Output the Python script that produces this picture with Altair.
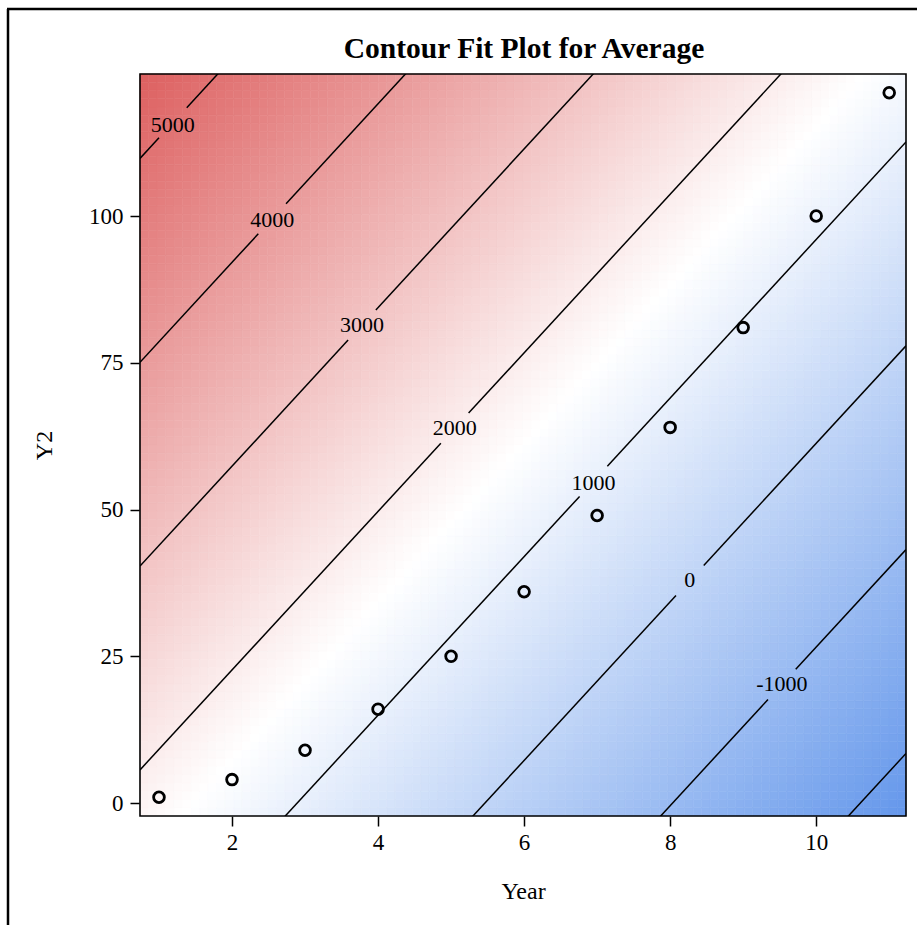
import altair as alt
import numpy as np
import pandas as pd

# ---- data ----
year = [1, 2, 3, 4, 5, 6, 7, 8, 9, 10, 11]
y2 = [1, 4, 9, 16, 25, 36, 49, 64, 81, 100, 121]

# fitted plane: Average ~ a + b*Year + c*Y2
fit_intercept = 2125.0
fit_year = -389.0
fit_y2 = 28.8

contour_levels = [-2000, -1000, 0, 1000, 2000, 3000, 4000, 5000]
label_levels = [5000, 4000, 3000, 2000, 1000, 0, -1000]
label_year = [1.19, 2.55, 3.78, 5.05, 6.95, 8.27, 9.53]
label_y2 = [115.5, 99.3, 81.4, 63.9, 54.5, 38.0, 20.3]

x_ticks = [2, 4, 6, 8, 10]
y_ticks = [0, 25, 50, 75, 100]
x_domain = [0.74, 11.23]
y_domain = [-2.2, 124.2]

title_text = "Contour Fit Plot for Average"
ramp_colors = ["#6497EB", "#FFFFFF", "#DD6060"]

# ---- layout constants ----
W, H = 766, 742
FONT = "Liberation Serif"
GAP = 0.19  # half gap (in Year units) of a contour line around its label


def fit(x, y):
    return fit_intercept + fit_year * x + fit_y2 * y


# surface grid
nx, ny = 90, 90
xe = np.linspace(x_domain[0], x_domain[1], nx + 1)
ye = np.linspace(y_domain[0], y_domain[1], ny + 1)
rows = []
for i in range(nx):
    for j in range(ny):
        xc = 0.5 * (xe[i] + xe[i + 1])
        yc = 0.5 * (ye[j] + ye[j + 1])
        rows.append((xe[i], xe[i + 1], ye[j], ye[j + 1], fit(xc, yc)))
grid = pd.DataFrame(rows, columns=["x0", "x1", "y0", "y1", "z"])

corner_vals = [fit(x_domain[0], y_domain[1]), fit(x_domain[1], y_domain[0])]
zmax, zmin = max(corner_vals), min(corner_vals)
zmid = 0.5 * (zmax + zmin)


def y_on(level, x):
    return (level - fit_intercept - fit_year * x) / fit_y2


# contour line segments (broken around labels)
seg_rows = []
sid = 0
for lev in contour_levels:
    if lev in label_levels:
        lx = label_year[label_levels.index(lev)]
        pieces = [(x_domain[0], lx - GAP), (lx + GAP, x_domain[1])]
    else:
        pieces = [(x_domain[0], x_domain[1])]
    for a, b in pieces:
        seg_rows.append((sid, a, y_on(lev, a)))
        seg_rows.append((sid, b, y_on(lev, b)))
        sid += 1
segs = pd.DataFrame(seg_rows, columns=["seg", "x", "y"])

labels = pd.DataFrame({"x": label_year, "y": label_y2,
                       "t": [str(v) for v in label_levels]})
pts = pd.DataFrame({"Year": year, "Y2": y2})
one = pd.DataFrame({"k": [0]})
title_df = pd.DataFrame({"t": [title_text]})

xs = alt.Scale(domain=x_domain, nice=False, zero=False)
ys = alt.Scale(domain=y_domain, nice=False, zero=False)
cscale = alt.Scale(domain=[zmin, zmid, zmax], range=ramp_colors,
                   interpolate="rgb", clamp=True)

x_axis = alt.Axis(values=x_ticks, format="d", title="Year", grid=False, domain=False,
                  tickSize=10, tickColor="black", tickWidth=1.5,
                  labelFont=FONT, labelFontSize=23, labelColor="black",
                  labelPadding=5, labelFlush=False,
                  titleFont=FONT, titleFontSize=24, titleFontWeight="normal",
                  titleColor="black", titleBaseline="alphabetic", titleY=82)
y_axis = alt.Axis(values=y_ticks, format="d", title="Y2", grid=False, domain=False,
                  tickSize=10, tickColor="black", tickWidth=1.5,
                  labelFont=FONT, labelFontSize=23, labelColor="black",
                  labelPadding=7, labelFlush=False,
                  titleFont=FONT, titleFontSize=24, titleFontWeight="normal",
                  titleColor="black", titleAngle=-90, titleBaseline="middle",
                  titleX=-96, titleY=H / 2)

heat = alt.Chart(grid).mark_rect(strokeWidth=0.6).encode(
    x=alt.X("x0:Q", scale=xs, axis=x_axis),
    x2="x1:Q",
    y=alt.Y("y0:Q", scale=ys, axis=y_axis),
    y2="y1:Q",
    color=alt.Color("z:Q", scale=cscale, legend=None),
    stroke=alt.Stroke("z:Q", scale=cscale, legend=None),
)

lines = alt.Chart(segs).mark_line(color="black", strokeWidth=1.5, clip=True).encode(
    x=alt.X("x:Q", scale=xs),
    y=alt.Y("y:Q", scale=ys),
    detail="seg:N",
)

texts = alt.Chart(labels).mark_text(font=FONT, fontSize=22, color="black",
                                    align="center", baseline="middle").encode(
    x=alt.X("x:Q", scale=xs),
    y=alt.Y("y:Q", scale=ys),
    text="t:N",
)

points = alt.Chart(pts).mark_point(shape="circle", filled=False, color="black",
                                   strokeWidth=2.8, size=115, opacity=1).encode(
    x=alt.X("Year:Q", scale=xs),
    y=alt.Y("Y2:Q", scale=ys),
)

border = alt.Chart(one).mark_rect(filled=False, stroke="black", strokeWidth=1.6).encode(
    x=alt.value(0), x2=alt.value(W), y=alt.value(0), y2=alt.value(H)
)

frame_left = alt.Chart(one).mark_rule(color="black", strokeWidth=2.5).encode(
    x=alt.value(-132), y=alt.value(-65), y2=alt.value(H + 120)
)
frame_top = alt.Chart(one).mark_rule(color="black", strokeWidth=2.5).encode(
    x=alt.value(-133), x2=alt.value(W + 40), y=alt.value(-65)
)

title_mark = alt.Chart(title_df).mark_text(font=FONT, fontSize=29.5, fontWeight="bold",
                                           color="black", align="center",
                                           baseline="alphabetic").encode(
    x=alt.value(W / 2 + 1), y=alt.value(-16), text="t:N"
)

chart = alt.layer(heat, lines, texts, points, border, frame_left, frame_top,
                  title_mark).properties(
    width=W, height=H,
    autosize=alt.AutoSizeParams(type="none"),
    padding={"left": 140, "top": 74, "right": 11, "bottom": 109},
    background="white",
).configure_view(stroke=None)

chart.save("out.html", embed_options={"renderer": "svg", "actions": False})
